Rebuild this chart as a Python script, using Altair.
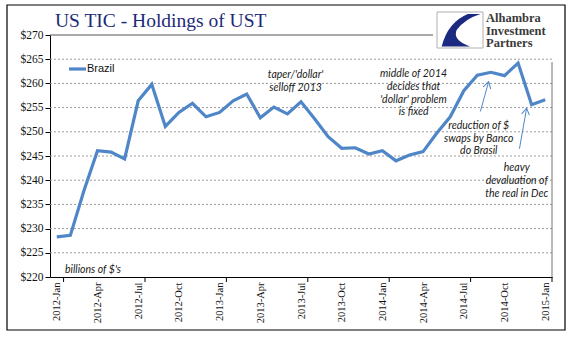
import altair as alt
import pandas as pd

# ---------------- data ----------------
month_names = ["Jan", "Feb", "Mar", "Apr", "May", "Jun",
               "Jul", "Aug", "Sep", "Oct", "Nov", "Dec"]
months = [f"{y}-{m}" for y in (2012, 2013, 2014) for m in month_names] + ["2015-Jan"]

brazil = [228.3, 228.6, 237.8, 246.1, 245.8, 244.4, 256.4, 259.8, 251.1, 254.0, 255.9, 253.1,
          254.0, 256.4, 257.8, 252.9, 255.1, 253.7, 256.2, 252.7, 249.0, 246.6, 246.7, 245.4,
          246.1, 244.0, 245.2, 245.9, 249.7, 253.1, 258.5, 261.7, 262.3, 261.6, 264.2, 255.6,
          256.6]

x_tick_labels = months[::3]
y_tick_values = [220, 225, 230, 235, 240, 245, 250, 255, 260, 265, 270]
grid_values = [225, 230, 235, 240, 245, 250, 255, 260, 265]
minor_ticks = [0.5, 6.5, 12.5, 18.5, 24.5, 30.5, 36.5]

ann_text = ["taper/'dollar'", "selloff 2013",
            "middle of 2014", "decides that", "'dollar' problem", "is fixed",
            "reduction of $", "swaps by Banco", "do Brasil",
            "heavy", "devaluation of", "the real in Dec"]
ann_x = [17.6, 17.6, 26.3, 26.3, 26.3, 26.3, 31.1, 31.1, 31.1, 33.9, 33.9, 33.9]
ann_y = [261.75, 259.05, 261.95, 259.3, 256.6, 254.1, 251.3, 248.55, 246.1, 242.55, 239.85, 237.2]

arrow_x = [31.22, 34.10]
arrow_y = [254.2, 246.5]
arrow_x2 = [31.83, 34.63]
arrow_y2 = [260.35, 254.9]

logo_words = ["Alhambra", "Investment", "Partners"]

# ---------------- frames ----------------
df = pd.DataFrame({"i": list(range(len(months))), "month": months, "value": brazil})
ann = pd.DataFrame({"text": ann_text, "x": ann_x, "y": ann_y})
arrows = pd.DataFrame({"x": arrow_x, "y": arrow_y, "x2": arrow_x2, "y2": arrow_y2})
grid_df = pd.DataFrame({"v": grid_values})
tick_df = pd.DataFrame({"t": minor_ticks})
one = pd.DataFrame({"a": [0]})

W, H = 502, 242
LINE = "#4F86C8"
SERIF = "Liberation Serif"

label_js = "[" + ",".join(f"'{s}'" for s in x_tick_labels) + "][round(datum.value/3)]"

xs = alt.Scale(domain=[-0.5, 36.5], nice=False, zero=False)
ys = alt.Scale(domain=[220, 270], nice=False, zero=False)

x_axis = alt.Axis(values=list(range(0, 37, 3)), labelExpr=label_js, labelAngle=-90,
                  labelFont=SERIF, labelFontSize=10.5, labelColor="#111", labelPadding=5,
                  labelOverlap=False, ticks=False, grid=False, domainColor="#000",
                  domainWidth=1, title=None)
y_axis = alt.Axis(values=y_tick_values, labelExpr="'$' + datum.value", labelFont=SERIF,
                  labelFontSize=11.5, labelColor="#111", labelPadding=2, tickSize=5,
                  labelOverlap=False, tickColor="#000", grid=False,
                  domainColor="#000", domainWidth=1, title=None)


def X(field):
    return alt.X(field, scale=xs, axis=x_axis)


def Y(field):
    return alt.Y(field, scale=ys, axis=y_axis)


grid = alt.Chart(grid_df).mark_rule(color="#9a9a9a", strokeDash=[2, 2], strokeWidth=1).encode(
    y=Y("v:Q"), x=alt.value(0), x2=alt.value(W))

xticks = alt.Chart(tick_df).mark_rule(color="#000", strokeWidth=1).encode(
    x=X("t:Q"), y=alt.value(H), y2=alt.value(H + 5))

top_line = alt.Chart(one).mark_rule(color="#555", strokeWidth=1).encode(
    x=alt.value(0), x2=alt.value(383), y=alt.value(0))
right_line = alt.Chart(one).mark_rule(color="#777", strokeWidth=1).encode(
    x=alt.value(W), y=alt.value(27), y2=alt.value(H))

line = alt.Chart(df).mark_line(color=LINE, strokeWidth=3.2).encode(
    x=X("i:Q"), y=Y("value:Q"))

texts = alt.Chart(ann).mark_text(font="Lato", fontStyle="italic", fontSize=10.5,
                                 color="#1a1a1a", align="center", baseline="middle").encode(
    x=X("x:Q"), y=Y("y:Q"), text="text:N")

billions = alt.Chart(one).mark_text(font="Lato", fontStyle="italic", fontSize=10.5,
                                    color="#1a1a1a", align="left", baseline="middle",
                                    text="billions of $'s").encode(
    x=alt.value(15), y=alt.value(234.5))

arrow_lines = alt.Chart(arrows).mark_rule(color=LINE, strokeWidth=1).encode(
    x=X("x:Q"), y=Y("y:Q"), x2="x2:Q", y2="y2:Q")

vpath = "M -0.45 0.75 L 0 0 L 0.45 0.75"
head1 = alt.Chart(arrows.iloc[[0]]).mark_point(shape=vpath, size=300, filled=False,
                                                 color=LINE, strokeWidth=1, angle=15, opacity=1).encode(
    x=X("x2:Q"), y=Y("y2:Q"))
head2 = alt.Chart(arrows.iloc[[1]]).mark_point(shape=vpath, size=300, filled=False,
                                                 color=LINE, strokeWidth=1, angle=10, opacity=1).encode(
    x=X("x2:Q"), y=Y("y2:Q"))

legend_line = alt.Chart(one).mark_rule(color=LINE, strokeWidth=3.2).encode(
    x=alt.value(19), x2=alt.value(36), y=alt.value(34))
legend_text = alt.Chart(one).mark_text(font="Liberation Sans", fontSize=11, color="#111",
                                       align="left", baseline="middle", text="Brazil").encode(
    x=alt.value(37), y=alt.value(34))

title = alt.Chart(one).mark_text(font=SERIF, fontSize=19.5, color="#1C2A78", align="left",
                                 baseline="alphabetic", text="US TIC - Holdings of UST").encode(
    x=alt.value(5), y=alt.value(-8))

frame = alt.Chart(one).mark_rect(fill=None, stroke="#000", strokeWidth=1.2).encode(
    x=alt.value(-43), x2=alt.value(515), y=alt.value(-30), y2=alt.value(295))

logo_box = alt.Chart(one).mark_rect(fill="#ffffff", stroke="#b0b0b0", strokeWidth=1).encode(
    x=alt.value(387), x2=alt.value(433), y=alt.value(-23), y2=alt.value(13))
logo_path = ("M 0.92 -0.72 L 0.35 -0.72 Q -0.55 -0.35 -0.82 0.74 L 0.45 0.74 "
             "Q -0.35 0.45 -0.15 0.0 Q 0.2 -0.5 0.92 -0.72 Z")
logo_mark = alt.Chart(one).mark_point(shape=logo_path, size=2000, filled=True, fill="#1B2A80",
                                      strokeWidth=0, opacity=1).encode(
    x=alt.value(410), y=alt.value(-5))

logo_layers = []
for word, yy in zip(logo_words, [-13, -0.5, 12]):
    logo_layers.append(
        alt.Chart(one).mark_text(font=SERIF, fontSize=12.5, fontWeight="bold", color="#3a3a3a",
                                 align="left", baseline="alphabetic", text=word).encode(
            x=alt.value(436), y=alt.value(yy)))

chart = alt.layer(
    frame, grid, top_line, right_line, xticks, line, texts, billions, arrow_lines,
    head1, head2, legend_line, legend_text, title, logo_box, logo_mark, *logo_layers
).properties(
    width=W, height=H,
    padding={"left": 50, "top": 35, "right": 25, "bottom": 64},
    autosize=alt.AutoSizeParams(type="none"),
    background="#ffffff",
).configure_view(stroke=None).configure_axis(labelOverlap=False)

chart.save("out.html", embed_options={"renderer": "svg", "actions": False})
